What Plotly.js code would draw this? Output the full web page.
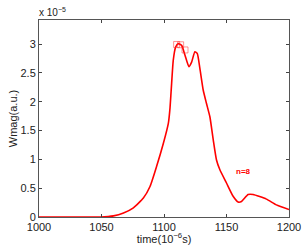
<!DOCTYPE html>
<html><head><meta charset="utf-8">
<script src="https://cdn.plot.ly/plotly-3.0.1.min.js"></script>
<style>html,body{margin:0;padding:0;background:#fff}#chart{width:303px;height:245px}</style>
</head><body><div id="chart"></div>
<script>
// time in 10^-6 s, Wmag in units of 10^-5 a.u.
const time = [1000,1049,1059.6,1067.6,1075.5,1083.5,1088.8,1094.1,1099.5,1103.5,1104.8,1106.1,1107.4,1109.3,1111.4,1114.1,1116.8,1119.9,1122.1,1124.7,1126.6,1128.7,1131.4,1134,1136.7,1139.4,1142,1144.7,1150,1155.3,1159.3,1162,1167.3,1171.3,1181.9,1189.9,1200];
const wmag = [0,0,0.02,0.07,0.16,0.33,0.53,0.88,1.28,1.63,1.89,2.32,2.72,2.95,3.01,2.98,2.81,2.61,2.69,2.87,2.84,2.58,2.20,1.97,1.74,1.34,0.99,0.82,0.59,0.36,0.26,0.27,0.39,0.39,0.31,0.21,0.13];
const markT = [1110.1,1113.3,1116.8];
const markW = [2.995,2.99,2.9];
const xTicks = [1000,1050,1100,1150,1200];
const yTicks = [0,0.5,1,1.5,2,2.5,3];
const yTickText = ['0','0.5','1','1.5','2','2.5','3'];
const label = 'n=8';

const font = {family:'Liberation Sans, Arial, sans-serif', size:11, color:'#222'};
const data = [
  {x:time, y:wmag, mode:'lines', line:{color:'#ff0000', width:1.6, shape:'spline', smoothing:0.5}, hoverinfo:'skip'},
  {x:markT, y:markW, mode:'markers', marker:{symbol:'square-open', size:6, color:'rgba(255,40,40,0.5)', line:{width:1, color:'rgba(255,40,40,0.5)'}}, hoverinfo:'skip'}
];
const layout = {
  width:303, height:245, showlegend:false,
  paper_bgcolor:'#fff', plot_bgcolor:'#fff',
  margin:{l:39, r:14, t:20, b:28, pad:0},
  font:font,
  xaxis:{range:[1000,1200], tickvals:xTicks, ticks:'inside', ticklen:3, tickcolor:'#444',
    showline:true, linecolor:'#555', linewidth:1, mirror:'ticks', showgrid:false, zeroline:false,
    tickfont:font, title:{text:'time(10<sup>−6</sup>s)', font:font, standoff:1}},
  yaxis:{range:[0,3.42], tickvals:yTicks, ticktext:yTickText, ticks:'inside', ticklen:3, tickcolor:'#444',
    showline:true, linecolor:'#555', linewidth:1, mirror:'ticks', showgrid:false, zeroline:false,
    tickfont:font, title:{text:'Wmag(a.u.)', font:font, standoff:0}},
  annotations:[
    {x:0, y:1, xref:'paper', yref:'paper', xanchor:'left', yanchor:'bottom', yshift:0, xshift:-2,
     text:'x 10<sup>−5</sup>', showarrow:false, font:{family:font.family, size:10, color:'#222'}},
    {x:1163.8, y:0.785, xref:'x', yref:'y', text:'<b>'+label+'</b>', showarrow:false,
     font:{family:font.family, size:8, color:'#ff0000'}}
  ]
};
Plotly.newPlot('chart', data, layout, {staticPlot:true, displayModeBar:false});
</script></body></html>
